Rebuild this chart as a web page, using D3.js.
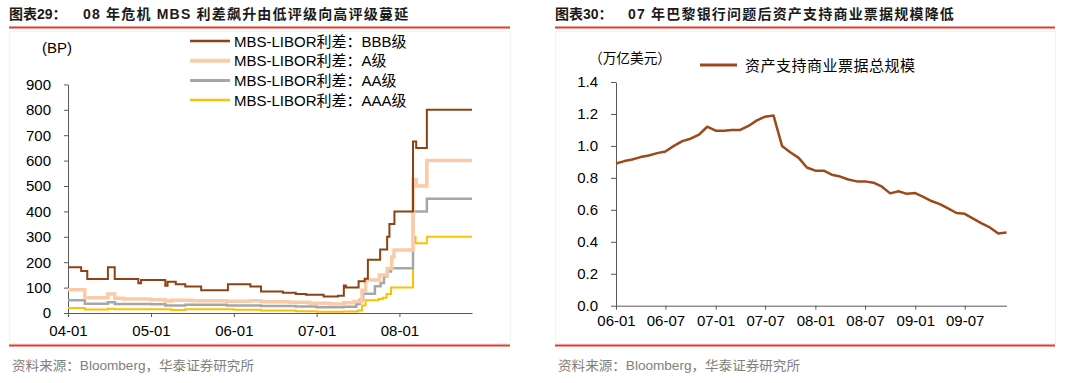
<!DOCTYPE html>
<html>
<head>
<meta charset="utf-8">
<script src="https://cdn.jsdelivr.net/npm/d3@7"></script>
<style>
  html, body { margin: 0; padding: 0; background: #fff; }
  svg { display: block; }
  text { font-family: "Liberation Sans", Arial, "Noto Sans CJK SC", sans-serif; }
</style>
</head>
<body>
<div id="chart"></div>
<script>
// ---- left chart: MBS-LIBOR spreads (step series, [date, bp]) ----
const bbbSteps = [
  ['2004-01-01', 180], ['2004-02-28', 165], ['2004-03-26', 134], ['2004-06-25', 180],
  ['2004-07-25', 134], ['2004-11-06', 117], ['2004-11-18', 130], ['2005-03-05', 107],
  ['2005-03-15', 123], ['2005-04-20', 113], ['2005-06-01', 104], ['2005-08-10', 90],
  ['2005-12-06', 113], ['2006-03-15', 104], ['2006-05-01', 85], ['2006-08-05', 80],
  ['2006-10-01', 75], ['2006-11-15', 72], ['2007-02-01', 65], ['2007-04-05', 68],
  ['2007-05-01', 108], ['2007-05-10', 100], ['2007-07-05', 125], ['2007-08-01', 135],
  ['2007-08-15', 210], ['2007-10-08', 250], ['2007-11-08', 300], ['2007-11-18', 350],
  ['2007-12-10', 400], ['2008-03-01', 675], ['2008-03-15', 650], ['2008-05-01', 800]
];
const aSteps = [
  ['2004-01-01', 92], ['2004-03-15', 60], ['2004-06-25', 75], ['2004-07-25', 58],
  ['2004-09-01', 55], ['2005-01-01', 52], ['2005-03-05', 47], ['2005-04-01', 50],
  ['2005-07-01', 48], ['2005-12-01', 46], ['2006-03-15', 48], ['2006-05-01', 44],
  ['2006-09-01', 42], ['2006-12-01', 38], ['2007-03-01', 35], ['2007-05-01', 40],
  ['2007-06-15', 45], ['2007-07-20', 90], ['2007-08-05', 130], ['2007-10-05', 150],
  ['2007-11-08', 175], ['2007-11-28', 220], ['2007-12-08', 248], ['2008-03-01', 525],
  ['2008-03-15', 500], ['2008-05-01', 600]
];
const aaSteps = [
  ['2004-01-01', 50], ['2004-03-15', 36], ['2004-06-25', 42], ['2004-07-25', 35],
  ['2005-01-01', 34], ['2005-03-05', 30], ['2005-06-01', 32], ['2005-12-01', 30],
  ['2006-05-01', 28], ['2006-10-01', 26], ['2007-01-01', 23], ['2007-05-01', 25],
  ['2007-06-25', 35], ['2007-07-10', 52], ['2007-07-25', 76], ['2007-09-15', 105],
  ['2007-10-10', 118], ['2007-10-25', 145], ['2007-11-08', 163], ['2007-11-25', 176],
  ['2008-03-01', 400], ['2008-05-01', 450]
];
const aaaSteps = [
  ['2004-01-01', 20], ['2004-03-15', 14], ['2004-06-25', 17], ['2004-07-25', 15],
  ['2005-04-01', 12], ['2005-06-01', 15], ['2006-01-01', 13], ['2006-05-01', 10],
  ['2006-10-01', 7], ['2007-01-01', 5], ['2007-05-01', 6], ['2007-07-01', 10],
  ['2007-07-20', 30], ['2007-08-05', 50], ['2007-10-01', 55], ['2007-10-20', 60],
  ['2007-11-05', 75], ['2007-11-25', 100], ['2008-03-01', 300], ['2008-03-12', 275],
  ['2008-05-01', 300]
];
const spreadNames = ['MBS-LIBOR利差：BBB级', 'MBS-LIBOR利差：A级', 'MBS-LIBOR利差：AA级', 'MBS-LIBOR利差：AAA级'];
const spreadColors = ['#8c4214', '#f9cba8', '#a6a6a6', '#ffc000'];
const spreadWidths = [2, 3.5, 2.5, 2];
const spreadEnd = '2008-11-16';
const spreadYTicks = [0, 100, 200, 300, 400, 500, 600, 700, 800, 900];
const spreadXTicks = ['2004-01-01', '2005-01-01', '2006-01-01', '2007-01-01', '2008-01-01'];

// ---- right chart: ABCP outstanding, monthly from 2006-01 ----
const abcpStart = '2006-01-01';
const abcpValues = [
  0.89, 0.905, 0.915, 0.93, 0.94, 0.955, 0.965, 1.0, 1.03, 1.045, 1.07, 1.12,
  1.095, 1.095, 1.10, 1.10, 1.125, 1.16, 1.183, 1.19, 1.0, 0.96, 0.925, 0.865,
  0.845, 0.845, 0.82, 0.808, 0.79, 0.778, 0.778, 0.77, 0.745, 0.703, 0.716, 0.70,
  0.705, 0.68, 0.655, 0.636, 0.609, 0.58, 0.575, 0.545, 0.515, 0.49, 0.452, 0.458
];
const abcpYTicks = [0, 0.2, 0.4, 0.6, 0.8, 1.0, 1.2, 1.4];
const abcpXTicks = ['2006-01-01', '2006-07-01', '2007-01-01', '2007-07-01', '2008-01-01', '2008-07-01', '2009-01-01', '2009-07-01'];

const parse = d3.timeParse('%Y-%m-%d');
const fmtTick = d3.timeFormat('%y-%m');
const red = '#e8382d';
const axisColor = '#595959';

const svg = d3.select('#chart').append('svg')
  .attr('width', 1080)
  .attr('height', 383);

// frames, titles, rules, sources
function panelChrome(x0, x1, labelText, titleText, titleX) {
  svg.append('rect')
    .attr('x', x0 + 0.5).attr('y', 31.5)
    .attr('width', x1 - x0).attr('height', 312)
    .attr('fill', 'none').attr('stroke', '#f3f3f3');
  svg.append('text')
    .attr('x', x0).attr('y', 19)
    .attr('font-size', 14).attr('font-weight', 'bold').attr('fill', '#1a1a1a')
    .attr('font-family', '"Noto Sans CJK SC", sans-serif')
    .text(labelText);
  svg.append('text')
    .attr('x', titleX).attr('y', 19)
    .attr('font-size', 14).attr('font-weight', 'bold').attr('fill', '#1a1a1a')
    .attr('font-family', '"Noto Sans CJK SC", sans-serif')
    .attr('letter-spacing', 1.2)
    .text(titleText);
  svg.append('line')
    .attr('x1', x0).attr('x2', x1).attr('y1', 27.5).attr('y2', 27.5)
    .attr('stroke', red).attr('stroke-width', 2);
  svg.append('line')
    .attr('x1', x0).attr('x2', x1).attr('y1', 345.5).attr('y2', 345.5)
    .attr('stroke', red).attr('stroke-width', 2);
  svg.append('text')
    .attr('x', x0 + 3).attr('y', 370)
    .attr('font-size', 13).attr('fill', '#808080')
    .attr('font-family', '"Noto Sans CJK SC", sans-serif')
    .attr('textLength', 242).attr('lengthAdjust', 'spacingAndGlyphs')
    .text('资料来源：Bloomberg，华泰证券研究所');
}
panelChrome(9, 510, '图表29：', '08 年危机 MBS 利差飙升由低评级向高评级蔓延', 83);
panelChrome(555, 1055, '图表30：', '07 年巴黎银行问题后资产支持商业票据规模降低', 628);

function styleAxis(g) {
  g.selectAll('path, line').attr('stroke', axisColor);
  g.selectAll('text').attr('font-size', 15).attr('fill', '#000')
    .attr('font-family', '"Liberation Sans", Arial, sans-serif');
}

// ---------- left chart ----------
const xL = d3.scaleTime()
  .domain([parse('2004-01-01'), parse(spreadEnd)])
  .range([68, 472]);
const yL = d3.scaleLinear().domain([0, 900]).range([313, 84.4]);

svg.append('g')
  .attr('transform', 'translate(68,0)')
  .call(d3.axisLeft(yL).tickValues(spreadYTicks).tickSize(4).tickSizeOuter(0).tickPadding(13))
  .call(styleAxis);

svg.append('g')
  .attr('transform', 'translate(0,313)')
  .call(d3.axisBottom(xL).tickValues(spreadXTicks.map(parse)).tickFormat(fmtTick)
    .tickSize(4).tickSizeOuter(0).tickPadding(8))
  .call(styleAxis);

svg.append('text')
  .attr('x', 42).attr('y', 53)
  .attr('font-size', 15)
  .text('(BP)');

const stepLine = d3.line()
  .x(d => xL(d[0]))
  .y(d => yL(d[1]))
  .curve(d3.curveStepAfter);

const spreadSeries = [bbbSteps, aSteps, aaSteps, aaaSteps].map(s => {
  const pts = s.map(([d, v]) => [parse(d), v]);
  pts.push([parse(spreadEnd), s[s.length - 1][1]]);
  return pts;
});

// draw lower-rated series last so it sits on top
[3, 2, 1, 0].forEach(i => {
  svg.append('path')
    .datum(spreadSeries[i])
    .attr('fill', 'none')
    .attr('stroke', spreadColors[i])
    .attr('stroke-width', spreadWidths[i])
    .attr('d', stepLine);
});

// legend
spreadNames.forEach((name, i) => {
  const ly = 41 + i * 19.7;
  svg.append('line')
    .attr('x1', 190).attr('x2', 230).attr('y1', ly).attr('y2', ly)
    .attr('stroke', spreadColors[i]).attr('stroke-width', spreadWidths[i] + 0.5);
  svg.append('text')
    .attr('x', 234).attr('y', ly + 5.5)
    .attr('font-size', 15)
    .text(name);
});

// ---------- right chart ----------
const abcpData = abcpValues.map((v, i) => [d3.timeMonth.offset(parse(abcpStart), i), v]);
const xR = d3.scaleTime()
  .domain([parse(abcpStart), abcpData[abcpData.length - 1][0]])
  .range([616, 1006.5]);
const yR = d3.scaleLinear().domain([0, 1.4]).range([305.7, 82]);

svg.append('g')
  .attr('transform', 'translate(616,0)')
  .call(d3.axisLeft(yR).tickValues(abcpYTicks).tickFormat(d3.format('.1f'))
    .tickSize(5).tickSizeOuter(0).tickPadding(13))
  .call(styleAxis);

svg.append('g')
  .attr('transform', 'translate(0,305.7)')
  .call(d3.axisBottom(xR).tickValues(abcpXTicks.map(parse)).tickFormat(fmtTick)
    .tickSize(4).tickSizeOuter(0).tickPadding(6))
  .call(styleAxis);

svg.append('path')
  .datum(abcpData)
  .attr('fill', 'none')
  .attr('stroke', '#9c4a1c')
  .attr('stroke-width', 2.5)
  .attr('stroke-linejoin', 'round')
  .attr('d', d3.line().x(d => xR(d[0])).y(d => yR(d[1])));

svg.append('text')
  .attr('x', 589).attr('y', 63)
  .attr('font-size', 14)
  .attr('font-family', '"Noto Sans CJK SC", sans-serif')
  .attr('textLength', 82).attr('lengthAdjust', 'spacingAndGlyphs')
  .text('（万亿美元）');

svg.append('line')
  .attr('x1', 700).attr('x2', 737).attr('y1', 65).attr('y2', 65)
  .attr('stroke', '#9c4a1c').attr('stroke-width', 3);
svg.append('text')
  .attr('x', 745).attr('y', 70.5)
  .attr('font-size', 15)
  .attr('font-family', '"Noto Sans CJK SC", sans-serif')
  .attr('textLength', 170).attr('lengthAdjust', 'spacing')
  .text('资产支持商业票据总规模');
</script>
</body>
</html>
